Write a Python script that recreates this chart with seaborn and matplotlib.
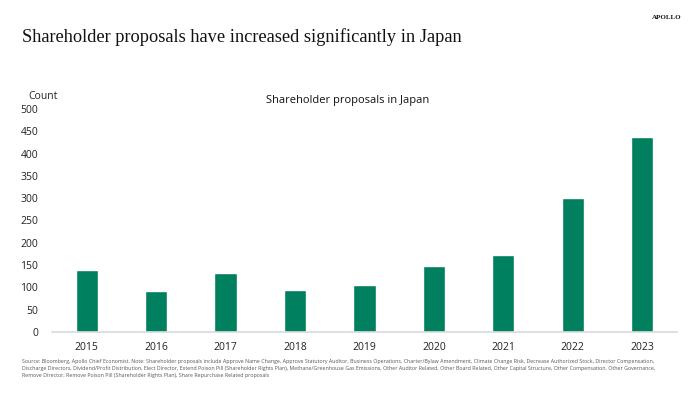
import matplotlib
matplotlib.use("Agg")
import matplotlib.pyplot as plt
import seaborn as sns
import pandas as pd

years = ["2015", "2016", "2017", "2018", "2019", "2020", "2021", "2022", "2023"]
counts = [139, 91, 133, 94, 105, 149, 172, 300, 438]
yticks = [0, 50, 100, 150, 200, 250, 300, 350, 400, 450, 500]

title = "Shareholder proposals have increased significantly in Japan"
subtitle = "Shareholder proposals in Japan"
footnote = ("Source: Bloomberg, Apollo Chief Economist. Note: Shareholder proposals include Approve Name Change, Approve Statutory Auditor, Business Operations, Charter/Bylaw Amendment, Climate Change Risk, Decrease Authorized Stock, Director Compensation,\n"
            "Discharge Directors, Dividend/Profit Distribution, Elect Director, Extend Poison Pill (Shareholder Rights Plan), Methane/Greenhouse Gas Emissions, Other Auditor Related, Other Board Related, Other Capital Structure, Other Compensation, Other Governance,\n"
            "Remove Director, Remove Poison Pill (Shareholder Rights Plan), Share Repurchase Related proposals")

sns.set_theme(style="white")
plt.rcParams['font.family'] = ['Open Sans', 'DejaVu Sans']

df = pd.DataFrame({"year": years, "count": counts})

fig = plt.figure(figsize=(7, 3.94), dpi=100)
ax = fig.add_axes([0.0743, 0.1574, 0.8927, 0.566])
sns.barplot(data=df, x="year", y="count", color="#00805F", saturation=1, width=0.32, ax=ax)
ax.set_xlim(-0.5, 8.5)
ax.set_ylim(0, 500)
ax.set_yticks(yticks)
ax.set_yticklabels([str(t) for t in yticks])
ax.set_xlabel("")
ax.set_ylabel("")
for s in ["top", "right", "left"]:
    ax.spines[s].set_visible(False)
ax.spines["bottom"].set_color("#D9D9D9")
ax.spines["bottom"].set_linewidth(1.2)
ax.tick_params(axis="both", length=0, labelsize=7.5, colors="#222222")
ax.tick_params(axis="x", pad=7)
ax.tick_params(axis="y", pad=10)

fig.text(0.04, 0.755, "Count", fontsize=7.5, color="#222222", ha="left", va="center")
fig.text(0.497, 0.745, subtitle, fontsize=8, color="#111111", ha="center", va="center")
fig.text(0.031, 0.905, title, fontsize=13.2, family=["Liberation Serif", "DejaVu Serif"], color="#111111", ha="left", va="center")
fig.text(0.973, 0.955, "APOLLO", fontsize=5, family=["Liberation Serif", "DejaVu Serif"], weight="bold", color="#111111", ha="right", va="center")
fig.text(0.031, 0.088, footnote, fontsize=3.8, color="#555555", ha="left", va="top", linespacing=1.45)

fig.savefig("out.png", dpi=100)
